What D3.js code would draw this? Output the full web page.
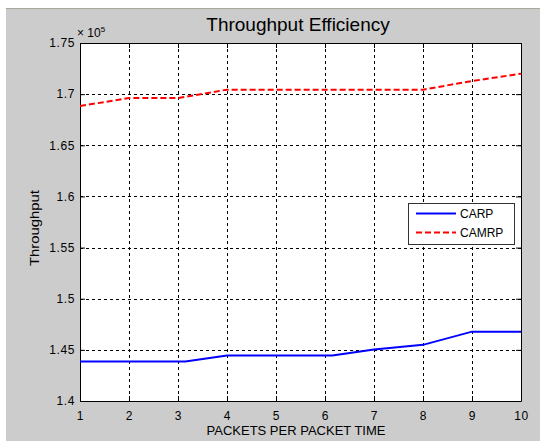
<!DOCTYPE html>
<html>
<head>
<meta charset="utf-8">
<script src="https://cdn.jsdelivr.net/npm/d3@7"></script>
<style>
  html, body { margin: 0; padding: 0; background: #ffffff; }
  svg text { font-family: "Liberation Sans", Arial, sans-serif; fill: #000; }
</style>
</head>
<body>
<div id="chart"></div>
<script>
// values in units of 1e5
const carpX = [1, 2, 3, 3.15, 4, 5, 6, 6.15, 7, 8, 9, 10];
const carpY = [1.4386, 1.4386, 1.4386, 1.4386, 1.4444, 1.4444, 1.4444, 1.4444, 1.4503, 1.4549, 1.4678, 1.4678];
const camrpX = [1, 2, 3, 4, 5, 6, 7, 8, 9, 10];
const camrpY = [1.6884, 1.6962, 1.6962, 1.7044, 1.7044, 1.7044, 1.7044, 1.7044, 1.7128, 1.7200];
const xTicks = [1, 2, 3, 4, 5, 6, 7, 8, 9, 10];
const yTicks = [1.4, 1.45, 1.5, 1.55, 1.6, 1.65, 1.7, 1.75];
const seriesNames = ['CARP', 'CAMRP'];

const W = 540, H = 441;
const plot = {left: 80, right: 521, top: 43, bottom: 401};

const svg = d3.select('#chart').append('svg')
  .attr('width', W).attr('height', H);

// figure background
svg.append('rect').attr('x', 6).attr('y', 8).attr('width', W - 6).attr('height', H - 8)
  .attr('fill', '#cccccc');
svg.append('line').attr('x1', 6).attr('x2', W).attr('y1', 8.5).attr('y2', 8.5)
  .attr('stroke', '#a8a89c').attr('stroke-width', 1);

const x = d3.scaleLinear().domain([1, 10]).range([plot.left, plot.right]);
const y = d3.scaleLinear().domain([1.4, 1.75]).range([plot.bottom, plot.top]);

svg.append('rect')
  .attr('x', plot.left).attr('y', plot.top)
  .attr('width', plot.right - plot.left).attr('height', plot.bottom - plot.top)
  .attr('fill', '#ffffff');

// grid
const grid = svg.append('g').attr('stroke', '#000').attr('stroke-width', 1)
  .attr('stroke-dasharray', '3,3').attr('shape-rendering', 'crispEdges');
grid.selectAll('.gx').data(xTicks.slice(1, -1)).enter().append('line')
  .attr('x1', d => Math.round(x(d)) + 0.5).attr('x2', d => Math.round(x(d)) + 0.5)
  .attr('y1', plot.top).attr('y2', plot.bottom);
grid.selectAll('.gy').data(yTicks.slice(1, -1)).enter().append('line')
  .attr('y1', d => Math.round(y(d)) + 0.5).attr('y2', d => Math.round(y(d)) + 0.5)
  .attr('x1', plot.left).attr('x2', plot.right);

// axes (ticks pointing inward on all sides)
const tickLen = 5;
const axB = svg.append('g').attr('transform', `translate(0,${plot.bottom})`)
  .call(d3.axisBottom(x).tickValues(xTicks).tickSizeInner(-tickLen).tickSizeOuter(0).tickPadding(10).tickFormat(d3.format('d')));
const axT = svg.append('g').attr('transform', `translate(0,${plot.top})`)
  .call(d3.axisTop(x).tickValues(xTicks).tickSizeInner(-tickLen).tickSizeOuter(0).tickFormat(''));
const axL = svg.append('g').attr('transform', `translate(${plot.left},0)`)
  .call(d3.axisLeft(y).tickValues(yTicks).tickSizeInner(-tickLen).tickSizeOuter(0).tickPadding(5).tickFormat(d => d3.format('.2~f')(d)));
const axR = svg.append('g').attr('transform', `translate(${plot.right},0)`)
  .call(d3.axisRight(y).tickValues(yTicks).tickSizeInner(-tickLen).tickSizeOuter(0).tickFormat(''));

[axB, axT, axL, axR].forEach(a => {
  a.select('.domain').attr('stroke', '#000');
  a.selectAll('.tick line').attr('stroke', '#000');
  a.selectAll('text').attr('font-family', '"Liberation Sans", Arial, sans-serif')
    .attr('font-size', 12).attr('fill', '#111').attr('letter-spacing', 0.6);
});

// series
const line = d3.line().x(d => x(d[0])).y(d => y(d[1]));
svg.append('path').datum(d3.zip(carpX, carpY))
  .attr('fill', 'none').attr('stroke', '#0000ff').attr('stroke-width', 2)
  .attr('d', line);
svg.append('path').datum(d3.zip(camrpX, camrpY))
  .attr('fill', 'none').attr('stroke', '#ff0000').attr('stroke-width', 2)
  .attr('stroke-dasharray', '6,3')
  .attr('d', line);

// exponent label
const expo = svg.append('text').attr('x', 77).attr('y', 37)
  .style('font-size', '12px').attr('fill', '#111');
expo.append('tspan').text('\u00d7 10');
expo.append('tspan').attr('dy', -5).style('font-size', '8px').text('5');

// title and axis labels
svg.append('text').attr('x', 298).attr('y', 31).attr('text-anchor', 'middle')
  .attr('font-size', 19).text('Throughput Efficiency');
svg.append('text').attr('x', 296).attr('y', 435).attr('text-anchor', 'middle')
  .attr('font-size', 13).attr('fill', '#111').text('PACKETS PER PACKET TIME');
svg.append('text').attr('transform', 'translate(39,228) rotate(-90)')
  .attr('text-anchor', 'middle').attr('font-size', 12)
  .attr('textLength', 76).attr('lengthAdjust', 'spacingAndGlyphs')
  .attr('fill', '#111').text('Throughput');

// legend
const lg = svg.append('g').attr('transform', 'translate(408,203)');
lg.append('rect').attr('x', 0.5).attr('y', 0.5).attr('width', 106).attr('height', 41)
  .attr('fill', '#fff').attr('stroke', '#333');
const styles = [{c: '#0000ff', dash: null}, {c: '#ff0000', dash: '6,3'}];
seriesNames.forEach((name, i) => {
  const yy = 10.5 + i * 19;
  lg.append('line').attr('x1', 8).attr('x2', 48).attr('y1', yy).attr('y2', yy)
    .attr('stroke', styles[i].c).attr('stroke-width', 2)
    .attr('stroke-dasharray', styles[i].dash);
  lg.append('text').attr('x', 52).attr('y', yy + 4.5).attr('font-size', 12)
    .attr('fill', '#111').text(name);
});
</script>
</body>
</html>
